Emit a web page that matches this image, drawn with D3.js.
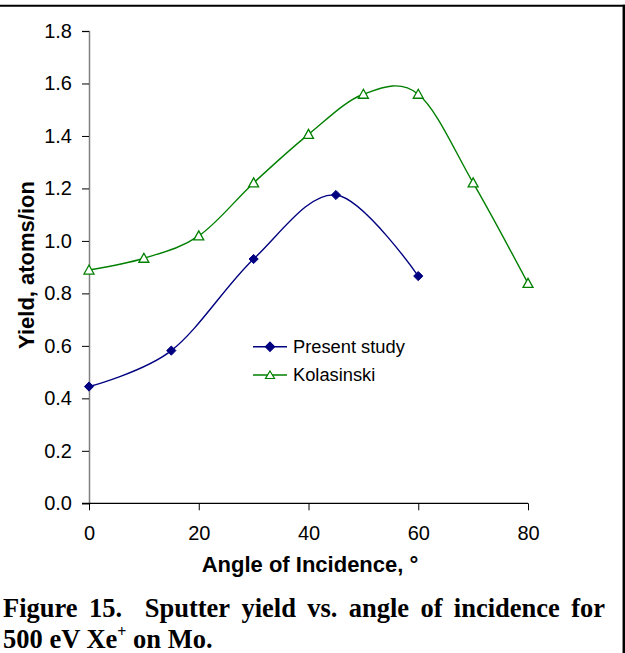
<!DOCTYPE html>
<html>
<head>
<meta charset="utf-8">
<script src="https://cdn.jsdelivr.net/npm/d3@7"></script>
<style>
  html, body { margin: 0; padding: 0; background: #fff; }
  svg { display: block; }
</style>
</head>
<body>
<svg id="chart" width="625" height="653"></svg>
<script>
// Sputter yield of Mo under 500 eV Xe+ bombardment vs. angle of incidence
const presentAngles = [0, 15, 30, 45, 60];
const presentYield  = [0.445, 0.582, 0.931, 1.175, 0.866];
const kolasAngles   = [0, 10, 20, 30, 40, 50, 60, 70, 80];
const kolasYield    = [0.889, 0.934, 1.019, 1.221, 1.406, 1.559, 1.559, 1.221, 0.838];
const seriesNames   = ["Present study", "Kolasinski"];
const xTicks = [0, 20, 40, 60, 80];
const yTicks = [0, 0.2, 0.4, 0.6, 0.8, 1.0, 1.2, 1.4, 1.6, 1.8];
const xTitle = "Angle of Incidence, \u00B0";
const yTitle = "Yield, atoms/ion";
const captionLine1 = ["Figure", "15.", "", "Sputter", "yield", "vs.", "angle", "of", "incidence", "for"];

const svg = d3.select("#chart");
const sans = "'Liberation Sans', Arial, sans-serif";
const serif = "'Liberation Serif', 'Times New Roman', serif";

const x = d3.scaleLinear().domain([0, 80]).range([89, 528]);
const y = d3.scaleLinear().domain([0, 1.8]).range([503.3, 31]);

// frame around figure
svg.append("line").attr("x1", 0).attr("x2", 625).attr("y1", 5.8).attr("y2", 5.8)
  .attr("stroke", "#000").attr("stroke-width", 2);
svg.append("line").attr("x1", 623.8).attr("x2", 623.8).attr("y1", 4.8).attr("y2", 653)
  .attr("stroke", "#000").attr("stroke-width", 2.5);

// y axis
const yAxis = svg.append("g").attr("transform", `translate(${x(0)},0)`)
  .call(d3.axisLeft(y).tickValues(yTicks).tickFormat(d3.format(".1f")).tickSize(7).tickPadding(10));
yAxis.select(".domain").attr("stroke", "#808080").attr("stroke-width", 1.5);
yAxis.selectAll(".tick line").attr("stroke", "#000");
yAxis.selectAll("text").attr("font-family", sans).attr("font-size", 20).attr("fill", "#000");

// x axis
const xAxis = svg.append("g").attr("transform", `translate(0,${y(0)})`)
  .call(d3.axisBottom(x).tickValues(xTicks).tickSize(7).tickPadding(16));
xAxis.select(".domain").attr("stroke", "#000").attr("stroke-width", 1.2)
  .attr("d", `M${x(0) - 7},0H${x(80)}`);
xAxis.selectAll(".tick line").attr("stroke", "#000");
xAxis.selectAll("text").attr("font-family", sans).attr("font-size", 20).attr("fill", "#000");

// axis titles
svg.append("text").attr("x", 310).attr("y", 571.5).attr("text-anchor", "middle")
  .attr("font-family", sans).attr("font-weight", "bold").attr("font-size", 22).text(xTitle);
svg.append("text").attr("transform", "translate(33.5,265) rotate(-90)").attr("text-anchor", "middle")
  .attr("font-family", sans).attr("font-weight", "bold").attr("font-size", 22).text(yTitle);

// smoothed series lines
const line = d3.line().x(d => x(d[0])).y(d => y(d[1])).curve(d3.curveCatmullRom.alpha(0));
const present = presentAngles.map((a, i) => [a, presentYield[i]]);
const kolas = kolasAngles.map((a, i) => [a, kolasYield[i]]);

svg.append("path").datum(kolas).attr("d", line)
  .attr("fill", "none").attr("stroke", "#008000").attr("stroke-width", 1.4);
svg.append("path").datum(present).attr("d", line)
  .attr("fill", "none").attr("stroke", "#000080").attr("stroke-width", 1.4);

const diamond = "M0,-4.6L4.6,0L0,4.6L-4.6,0Z";
const triangle = "M0,-5L5,4L-5,4Z";

svg.append("g").selectAll("path").data(kolas).join("path")
  .attr("d", triangle).attr("transform", d => `translate(${x(d[0])},${y(d[1])})`)
  .attr("fill", "#fff").attr("stroke", "#008000").attr("stroke-width", 1.3);
svg.append("g").selectAll("path").data(present).join("path")
  .attr("d", diamond).attr("transform", d => `translate(${x(d[0])},${y(d[1])})`)
  .attr("fill", "#000080").attr("stroke", "#000080").attr("stroke-width", 1);

// legend
const legend = svg.append("g").attr("transform", "translate(253,346.7)");
const legendItems = [
  { name: seriesNames[0], color: "#000080", shape: diamond, fill: "#000080" },
  { name: seriesNames[1], color: "#008000", shape: "M0,-4L4.5,3.5L-4.5,3.5Z", fill: "#fff" }
];
legendItems.forEach((it, i) => {
  const g = legend.append("g").attr("transform", `translate(0,${i * 28.3})`);
  g.append("line").attr("x1", 0).attr("x2", 34).attr("stroke", it.color).attr("stroke-width", 1.4);
  g.append("path").attr("d", it.shape).attr("transform", "translate(17,0)")
    .attr("fill", it.fill).attr("stroke", it.color).attr("stroke-width", 1.2);
  g.append("text").attr("x", 40).attr("y", 0).attr("dy", "0.35em")
    .attr("font-family", sans).attr("font-size", 18.3).text(it.name);
});

// caption, first line justified across the frame width
const cap = svg.append("g").attr("font-family", serif).attr("font-weight", "bold").attr("font-size", 26.5);
const capLeft = 3, capRight = 605;
const words = cap.selectAll("text.w").data(captionLine1.filter(w => w !== "")).join("text")
  .attr("class", "w").attr("y", 616.5).text(d => d);
const widths = words.nodes().map(n => n.getComputedTextLength());
// the double space after "15." counts as two gaps
const gapUnits = captionLine1.length - 1;
const gap = (capRight - capLeft - d3.sum(widths)) / gapUnits;
let cx = capLeft, wi = 0;
captionLine1.forEach((w, i) => {
  if (w === "") { cx += gap; return; }
  words.filter((d, j) => j === wi).attr("x", cx);
  cx += widths[wi] + gap;
  wi++;
});

const line2 = cap.append("text").attr("x", capLeft).attr("y", 648);
line2.append("tspan").text("500 eV Xe");
line2.append("tspan").attr("font-size", 16).attr("dy", -11).text("+");
line2.append("tspan").attr("dy", 11).text(" on Mo.");
</script>
</body>
</html>
